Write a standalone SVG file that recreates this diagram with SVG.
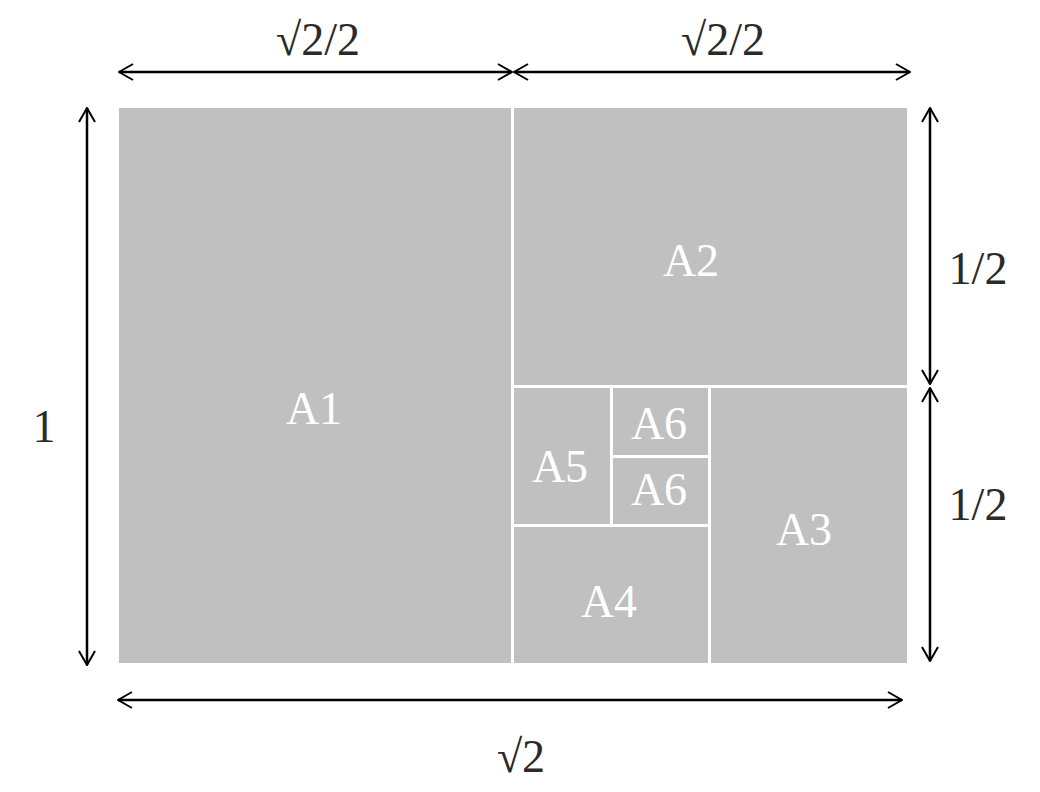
<svg xmlns="http://www.w3.org/2000/svg" width="1040" height="792" viewBox="0 0 1040 792">
<style>
.cell{fill:#c0c0c0;}
.lab{font-family:"Liberation Serif","Times New Roman",serif;font-size:46px;fill:#ffffff;text-anchor:middle;}
.dim{font-family:"Liberation Serif","Times New Roman",serif;font-size:46px;fill:#2a2a2a;text-anchor:middle;}
.arr{stroke:#000;stroke-width:2.5;fill:none;marker-start:url(#head);marker-end:url(#head);}
</style>
<defs>
<marker id="head" markerUnits="userSpaceOnUse" viewBox="0 0 16 18" markerWidth="16" markerHeight="18" refX="15" refY="9" orient="auto-start-reverse">
<path d="M1,1 L15,9 L1,17" fill="none" stroke="#000" stroke-width="2"/>
</marker>
</defs>
<rect width="1040" height="792" fill="#ffffff"/>
<g id="A1"><rect class="cell" x="119" y="108" width="392" height="555"/><text class="lab" x="314" y="424">A1</text></g>
<g id="A2"><rect class="cell" x="514" y="108" width="393" height="277"/><text class="lab" x="691" y="276">A2</text></g>
<g id="A3"><rect class="cell" x="711" y="388" width="196" height="275"/><text class="lab" x="804" y="545">A3</text></g>
<g id="A4"><rect class="cell" x="514" y="527" width="194" height="136"/><text class="lab" x="609" y="617">A4</text></g>
<g id="A5"><rect class="cell" x="514" y="388" width="96" height="136"/><text class="lab" x="560" y="482">A5</text></g>
<g id="A6a"><rect class="cell" x="613" y="388" width="95" height="67"/><text class="lab" x="659" y="439">A6</text></g>
<g id="A6b"><rect class="cell" x="613" y="458" width="95" height="66"/><text class="lab" x="659" y="505">A6</text></g>
<g id="connectors">
<line class="arr" x1="119" y1="72" x2="512" y2="72"/>
<line class="arr" x1="514" y1="72" x2="910" y2="72"/>
<line class="arr" x1="87" y1="108" x2="87" y2="665"/>
<line class="arr" x1="930" y1="108" x2="930" y2="384"/>
<line class="arr" x1="930" y1="388" x2="930" y2="661"/>
<line class="arr" x1="118" y1="700" x2="902" y2="700"/>
</g>
<g id="labels">
<text class="dim" x="318" y="55">√2/2</text>
<text class="dim" x="723" y="55">√2/2</text>
<text class="dim" x="44" y="442">1</text>
<text class="dim" x="978" y="284">1/2</text>
<text class="dim" x="978" y="520">1/2</text>
<text class="dim" x="521" y="772">√2</text>
</g>
</svg>
